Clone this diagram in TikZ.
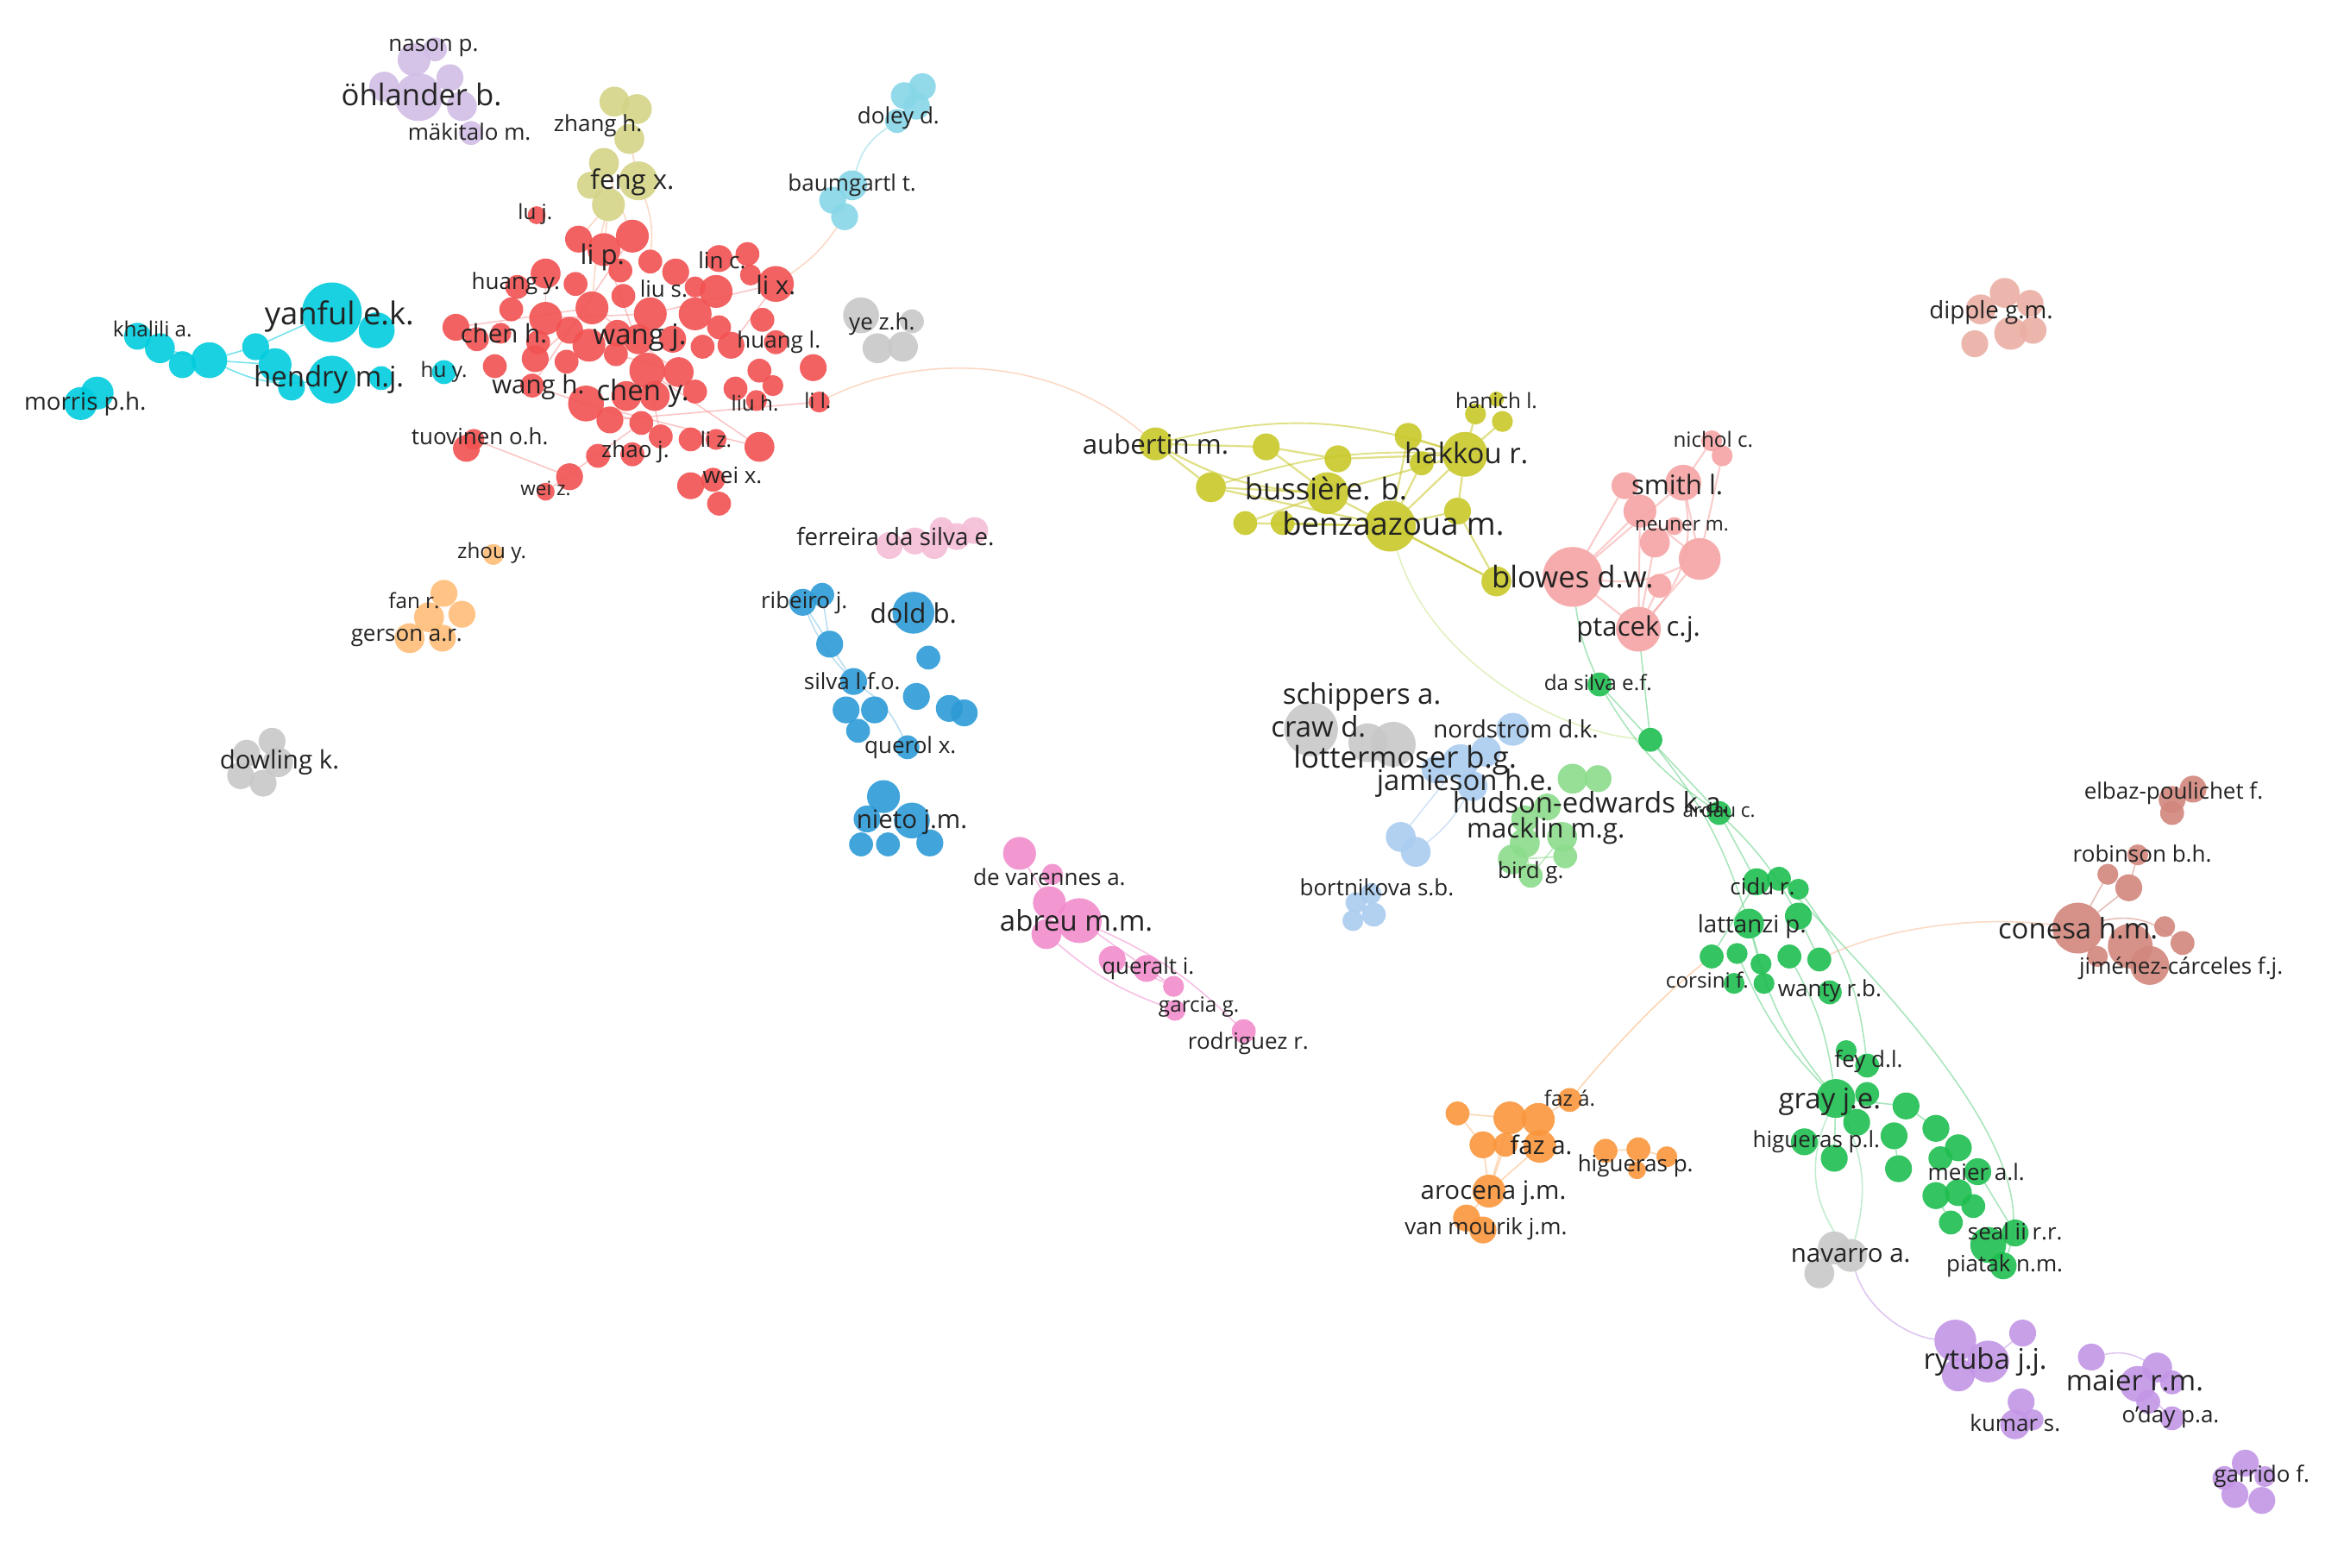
\documentclass[tikz,border=0pt]{standalone}
\usepackage{fontspec}
\setmainfont{Open Sans}
\usetikzlibrary{backgrounds}
\definecolor{tx}{RGB}{35,35,35}
\definecolor{cred}{RGB}{242,82,82}
\definecolor{ccyan}{RGB}{0,204,221}
\definecolor{ccyanl}{RGB}{135,215,232}
\definecolor{colive}{RGB}{200,200,40}
\definecolor{colivel}{RGB}{212,212,135}
\definecolor{cpinkl}{RGB}{246,163,163}
\definecolor{cgreen}{RGB}{30,190,80}
\definecolor{cgreenl}{RGB}{140,220,140}
\definecolor{cblue}{RGB}{45,155,215}
\definecolor{cbluel}{RGB}{170,205,240}
\definecolor{corange}{RGB}{250,150,60}
\definecolor{corangel}{RGB}{255,190,120}
\definecolor{cpurple}{RGB}{195,150,230}
\definecolor{clav}{RGB}{210,190,230}
\definecolor{cgray}{RGB}{200,200,200}
\definecolor{cmag}{RGB}{242,140,205}
\definecolor{cpinkp}{RGB}{245,190,215}
\definecolor{cbrown}{RGB}{210,135,125}
\definecolor{csalmon}{RGB}{235,175,165}
\definecolor{clink}{RGB}{250,185,150}
\definecolor{cyg}{RGB}{200,230,140}
\tikzset{
  bub/.style={circle, inner sep=0pt, outer sep=0pt, fill=#1, fill opacity=0.9, draw=none},
  lab/.style={text=tx, inner sep=0pt},
  lnk/.style={draw=#1, line width=0.9pt, draw opacity=0.55},
}
\newcommand{\mybub}[5]{\node[bub=#5, minimum size=#4*2pt] (#1) at (#2,#3) {};}
\newcommand{\mylab}[5]{\node[lab, font=\fontsize{#4}{#4}\selectfont] (#1) at (#2,#3) {#5};}
\begin{document}
\begin{tikzpicture}[x=1pt,y=-1pt]
\useasboundingbox (0,0) rectangle (1568,1049);
% ---------- bubbles ----------
% lavender
\foreach \n/\x/\y/\r in {ol1/277/40/11,nason/291/33/8,ohl/280/65/16,ol2/257/58/10,ol3/301/52/9,ol4/309/71/10,mak/315/89/8}
  {\mybub{\n}{\x}{\y}{\r}{clav}}
% feng (light olive)
\foreach \n/\x/\y/\r in {zh1/411/68/10,zh2/426/73/10,zh3/421/93/10,fx1/404/109/10,fx2/427/121/13,fx3/407/137/11,fx4/395/124/9}
  {\mybub{\n}{\x}{\y}{\r}{colivel}}
% red
\foreach \x/\y/\r [count=\i] in {387/160/9,404/167/11,423/158/11,435/175/8,415/181/8,452/182/9,481/173/9,500/170/8,502/184/7,519/190/12,479/195/11,465/192/7,365/183/10,385/190/8,346/192/8,342/207/8,365/213/11,396/206/11,417/198/8,435/210/11,465/210/11,481/219/8,510/214/8,305/219/9,319/227/8,335/223/7,360/229/8,381/221/9,394/231/11,413/223/9,427/227/10,450/227/9,470/232/8,489/231/9,519/229/8,544/246/9,331/245/8,358/240/9,379/242/8,412/237/8,433/248/12,454/249/10,356/258/8,392/270/12,419/265/10,438/265/10,465/262/8,492/260/8,508/248/8,517/258/7,506/268/7,548/269/7,408/281/9,429/283/8,442/292/8,462/294/8,479/294/7,508/299/10,400/305/8,423/304/8,312/300/9,317/294/7,381/319/9,365/329/6,462/325/9,477/321/8,481/337/8,359/144/6}
  {\mybub{rd\i}{\x}{\y}{\r}{cred}}
% cyan
\foreach \n/\x/\y/\r in {cy1/92/225/9,cy2/107/233/10,cy3/122/244/9,cy4/140/241/12,cy5/171/232/9,cy6/184/244/11,cy7/195/259/9,yanful/222/209/20,cy8/252/221/12,hendry/222/254/16,cy9/255/253/8,morris/54/270/11,cy10/65/263/11,huy/297/249/8}
  {\mybub{\n}{\x}{\y}{\r}{ccyan}}
% doley / baumgartl
\foreach \n/\x/\y/\r in {do1/617/58/9,do2/605/64/9,do3/613/71/9,do4/600/81/8,bg1/570/124/10,bg2/557/134/9,bg3/565/145/9}
  {\mybub{\n}{\x}{\y}{\r}{ccyanl}}
% grey groups
\foreach \n/\x/\y/\r in {ye1/576/211/12,ye2/610/215/8,ye3/587/233/10,ye4/604/232/10,dw1/182/496/9,dw2/165/504/9,dw3/186/510/10,dw4/176/524/9,dw5/161/519/9,craw/877/488/18,cw3/915/497/13,cw2/932/498/15,nv1/1227/835/11,navarro/1238/840/11,nv2/1217/852/10}
  {\mybub{\n}{\x}{\y}{\r}{cgray}}
% fan / zhou
\foreach \n/\x/\y/\r in {zhou/330/371/7,fan1/297/397/9,fan2/287/413/10,fan3/309/411/9,fan4/274/427/10,fan5/296/427/9}
  {\mybub{\n}{\x}{\y}{\r}{corangel}}
% ferreira
\foreach \n/\x/\y/\r in {fe1/595/365/9,fe2/612/362/9,fe3/625/365/9,fe4/640/359/9,fe5/652/355/9,fe6/630/354/8}
  {\mybub{\n}{\x}{\y}{\r}{cpinkp}}
% blue
\foreach \n/\x/\y/\r in {rib1/537/403/9,rib2/550/398/8,dold/611/410/14,bl1/555/431/9,bl2/621/440/8,silva/571/456/9,bl3/613/466/9,bl4/566/475/9,bl5/585/475/9,bl6/574/489/8,bl7/635/474/9,bl8/645/477/9,querol/607/500/8,nie1/591/533/11,nieto/610/549/12,nie2/580/548/9,nie3/576/565/8,nie4/594/565/8,nie5/622/564/9}
  {\mybub{\n}{\x}{\y}{\r}{cblue}}
% magenta
\foreach \n/\x/\y/\r in {dv1/682/571/11,dv2/704/585/7,ab1/702/604/11,abreu/722/616/15,ab2/700/625/10,qu1/744/642/9,qu2/767/648/9,gar1/785/660/7,gar2/786/676/7,rod/832/690/8}
  {\mybub{\n}{\x}{\y}{\r}{cmag}}
% olive (bussiere)
\foreach \n/\x/\y/\r in {aub/773/297/11,bo1/847/299/9,bo2/810/326/10,bo3/895/307/9,buss/888/330/14,benz/930/352/17,bo4/942/292/9,bo5/951/310/8,hak/980/304/15,han1/987/277/7,han2/1005/282/7,han3/1001/267/5,bo6/833/350/8,bo7/858/350/8,bo8/975/342/9,bo9/1001/389/10}
  {\mybub{\n}{\x}{\y}{\r}{colive}}
% pink (blowes)
\foreach \n/\x/\y/\r in {nic1/1145/295/7,nic2/1152/305/7,smith/1126/323/12,pk1/1087/325/9,pk2/1097/342/11,pk3/1107/363/10,pk4/1137/374/14,neu/1120/352/6,blowes/1052/386/20,pk5/1110/392/8,ptacek/1096/421/15}
  {\mybub{\n}{\x}{\y}{\r}{cpinkl}}
% dipple
\foreach \n/\x/\y/\r in {dp1/1341/196/10,dp2/1358/203/9,dp3/1325/207/10,dp4/1345/223/11,dp5/1360/221/9,dp6/1321/230/9}
  {\mybub{\n}{\x}{\y}{\r}{csalmon}}
% light blue
\foreach \n/\x/\y/\r in {nord/1012/488/11,lb1/994/503/10,lott/977/510/12,lb2/960/515/9,jam/985/526/10,lb3/937/560/10,lb4/947/570/10,bor1/917/598/7,bor2/907/604/7,bor3/919/612/8,bor4/905/616/7}
  {\mybub{\n}{\x}{\y}{\r}{cbluel}}
% light green
\foreach \n/\x/\y/\r in {lg1/1052/521/10,lg2/1069/521/9,lg3/1035/540/9,lg4/1020/548/9,lg5/1020/564/10,lg6/1045/560/10,lg7/1012/575/10,lg8/1047/573/8,bird/1024/586/8}
  {\mybub{\n}{\x}{\y}{\r}{cgreenl}}
% green
\foreach \n/\x/\y/\r in {gdas/1070/458/8,g2/1104/495/8,ardau/1150/544/8,cid1/1175/590/9,cid2/1190/588/8,cid3/1203/595/7,lat1/1170/618/10,lat2/1203/613/9,gc1/1145/640/8,gc2/1162/638/7,gc3/1178/645/7,gc4/1197/640/8,gc5/1217/642/8,gc6/1160/658/7,gc7/1180/658/7,wanty/1224/664/8,fey1/1235/703/7,fey2/1249/713/8,grayje/1228/735/13,gg1/1249/732/8,gg2/1275/740/9,gg3/1242/751/9,gg4/1267/760/9,gg5/1295/755/9,gg6/1310/768/9,gg7/1298/775/8,hpl1/1207/764/9,hpl2/1227/775/9,me1/1270/782/9,me2/1323/784/9,me3/1295/800/9,me4/1310/798/9,me5/1320/807/8,me6/1305/818/8,seal1/1330/833/12,seal2/1348/825/9,piatak/1340/847/9}
  {\mybub{\n}{\x}{\y}{\r}{cgreen}}
% orange (faz)
\foreach \n/\x/\y/\r in {faza/1050/736/8,fz1/1010/748/11,fz2/1029/749/11,faz/1030/767/11,fz3/992/766/9,fz4/975/745/8,fz5/1007/766/8,aroc/996/797/11,vm1/981/815/9,vm2/992/823/9,hp1/1074/770/8,hp2/1096/769/8,hp3/1115/774/7,hp4/1095/783/6}
  {\mybub{\n}{\x}{\y}{\r}{corange}}
% brown (conesa)
\foreach \n/\x/\y/\r in {elb1/1453/535/9,elb2/1467/528/9,elb3/1453/544/8,rob1/1430/572/7,rob2/1410/585/7,rob3/1424/594/9,conesa/1390/621/17,cn2/1425/633/15,cn3/1438/646/13,cn4/1460/631/8,cn5/1448/620/7,cn6/1403/640/7}
  {\mybub{\n}{\x}{\y}{\r}{cbrown}}
% purple
\foreach \n/\x/\y/\r in {ry1/1308/897/14,ryt/1330/911/14,ry2/1310/920/11,ry3/1353/892/9,mai1/1399/908/9,mai2/1443/915/10,maier/1430/926/12,mai3/1453/925/8,mai4/1437/938/8,ku1/1352/938/9,kumar/1348/953/10,ku2/1360/950/7,oday/1453/949/8,ga1/1502/979/9,ga2/1495/1000/9,ga3/1513/1004/9,ga4/1488/989/8,ga5/1515/988/7}
  {\mybub{\n}{\x}{\y}{\r}{cpurple}}
% ---------- connectors ----------
\begin{scope}[on background layer]
\fill[white] (0,0) rectangle (1568,1049);
% cyan
\draw[lnk=ccyan] (cy2) -- (cy4);
\draw[lnk=ccyan] (cy4) -- (cy5);
\draw[lnk=ccyan] (cy4) -- (cy6);
\draw[lnk=ccyan] (cy4) to[bend right=15] (hendry);
\draw[lnk=ccyan] (cy5) -- (yanful);
% feng - red
\draw[lnk=clink] (fx3) -- (rd2);
\draw[lnk=clink] (fx3) -- (rd1);
\draw[lnk=clink] (fx2) to[bend left=12] (rd4);
\draw[lnk=clink] (fx1) -- (rd3);
\draw[lnk=clink] (zh3) -- (fx2);
\draw[lnk=clink] (fx3) to[bend right=5] (rd18);
% red internal
\foreach \a/\b in {2/41,3/43,18/42,10/20,10/34,8/7,41/58,44/58,52/53,13/17,24/18,40/42,43/54,54/64,17/20,18/38,22/21,6/6,61/62,62/63,41/55}
  {\draw[lnk=cred!60] (rd\a) -- (rd\b);}
% doley - baumgartl - li x.
\draw[lnk=ccyanl] (do4) to[bend right=20] (bg1);
\draw[lnk=clink] (bg3) to[bend left=10] (rd10);
% li l. - aubertin
\draw[lnk=clink] (rd52) .. controls (610,238) and (700,235) .. (aub);
% olive
\foreach \a/\b in {aub/bo1,aub/bo2,bo1/bo3,bo1/buss,bo2/buss,bo2/benz,bo3/hak,buss/hak,benz/hak,benz/bo9,buss/bo9,hak/han1,hak/han2,bo4/benz,bo4/hak,bo5/benz,bo6/benz,bo7/benz,bo8/benz,bo8/hak,bo8/bo9,bo6/buss}
  {\draw[lnk=colive, line width=1.3pt] (\a) -- (\b);}
\draw[lnk=colive, line width=1.3pt] (aub) to[bend right=12] (buss);
\draw[lnk=colive, line width=1.1pt] (aub) to[bend left=15] (hak);
\draw[lnk=colive, line width=1.1pt] (bo2) to[bend left=10] (hak);
% pink
\foreach \a/\b in {blowes/smith,blowes/ptacek,smith/pk4,smith/nic1,nic2/pk4,ptacek/pk4,pk1/blowes,pk2/pk4,pk3/ptacek,pk5/ptacek,pk2/ptacek,blowes/pk2}
  {\draw[lnk=cpinkl, line width=1.2pt] (\a) -- (\b);}
\draw[lnk=cpinkl, line width=1.2pt] (blowes) to[bend right=15] (pk4);
\draw[lnk=cpinkl, line width=1.2pt] (smith) to[bend left=25] (ptacek);
% long green from benzaazoua
\draw[lnk=cyg] (benz) .. controls (955,440) and (1040,490) .. (g2);
% green
\draw[lnk=cgreen!70] (blowes) to[bend right=8] (gdas);
\draw[lnk=cgreen!70] (ptacek) -- (g2);
\draw[lnk=cgreen!70] (gdas) -- (g2);
\draw[lnk=cgreen!70] (gdas) to[bend right=12] (ardau);
\draw[lnk=cgreen!70] (g2) -- (ardau);
\draw[lnk=cgreen!70] (ardau) -- (cid1);
\draw[lnk=cgreen!70] (g2) to[bend left=10] (lat1);
\draw[lnk=cgreen!70] (ardau) to[bend left=8] (lat2);
\draw[lnk=cgreen!70] (cid1) -- (gc1);
\draw[lnk=cgreen!70] (lat1) -- (gc3);
\draw[lnk=cgreen!70] (lat2) -- (gc5);
\draw[lnk=cgreen!70] (gc4) to[bend left=10] (grayje);
\draw[lnk=cgreen!70] (lat1) to[bend right=12] (grayje);
\draw[lnk=cgreen!70] (gc2) to[bend right=10] (grayje);
\draw[lnk=cgreen!70] (cid3) to[bend left=15] (fey2);
\draw[lnk=cgreen!70] (grayje) -- (gg2);
\draw[lnk=cgreen!70] (grayje) -- (hpl2);
\draw[lnk=cgreen!70] (grayje) -- (gg3);
\draw[lnk=cgreen!70] (gg2) -- (gg5);
\draw[lnk=cgreen!70] (gg4) -- (me1);
\draw[lnk=cgreen!70] (me2) -- (seal2);
\draw[lnk=cgreen!70] (me3) -- (me6);
\draw[lnk=cgreen!70] (cid2) .. controls (1290,690) and (1365,780) .. (piatak);
\draw[lnk=cgreen!50] (grayje) to[bend right=30] (navarro);
\draw[lnk=cgreen!50] (grayje) to[bend left=20] (navarro);
% light blue / light green
\draw[lnk=cbluel] (jam) to[bend left=10] (lb4);
\draw[lnk=cbluel] (lott) -- (lb3);
\draw[lnk=cgreenl] (lg5) -- (bird);
\draw[lnk=cgreenl] (lg6) -- (bird);
\draw[lnk=cgreenl] (lg7) -- (lg8);
% orange
\draw[lnk=corange!70] (faza) .. controls (1080,700) and (1110,668) .. (gc1);
\foreach \a/\b in {fz4/fz1,fz4/fz3,fz1/aroc,fz5/aroc,faz/aroc,aroc/vm1,fz2/faza,hp1/hp2,hp2/hp3,fz3/aroc}
  {\draw[lnk=corange!70] (\a) -- (\b);}
% brown
\draw[lnk=clink] (gc5) .. controls (1260,622) and (1320,612) .. (conesa);
\draw[lnk=cbrown] (conesa) -- (rob2);
\draw[lnk=cbrown] (conesa) -- (rob3);
\draw[lnk=cbrown] (rob3) -- (rob1);
\draw[lnk=cbrown] (conesa) to[bend left=25] (cn4);
% purple
\draw[lnk=cpurple] (navarro) .. controls (1250,880) and (1280,895) .. (ry1);
\draw[lnk=cpurple] (mai1) to[bend left=20] (mai2);
\draw[lnk=cpurple] (maier) -- (oday);
\draw[lnk=cpurple] (ryt) -- (ry3);
% blue
\draw[lnk=cblue!60] (rib1) to[bend right=10] (silva);
\draw[lnk=cblue!60] (rib2) -- (bl1);
\draw[lnk=cblue!60] (rib1) -- (bl1);
\draw[lnk=cblue!60] (silva) to[bend left=15] (querol);
\draw[lnk=cblue!60] (bl1) -- (silva);
% magenta
\draw[lnk=cmag] (dv1) -- (ab1);
\draw[lnk=cmag] (abreu) -- (qu2);
\draw[lnk=cmag] (ab2) to[bend right=10] (gar2);
\draw[lnk=cmag] (abreu) to[bend left=10] (rod);
\draw[lnk=cmag] (qu1) -- (gar1);
\draw[lnk=cmag] (qu2) -- (gar1);
\end{scope}
% ---------- labels ----------
\mylab{Lnason}{290}{32}{15}{nason p.}
\mylab{Lohl}{282}{63}{20}{öhlander b.}
\mylab{Lmak}{314}{88}{15}{mäkitalo m.}
\mylab{Lzhang}{400}{84}{15}{zhang h.}
\mylab{Lfeng}{423}{122}{18}{feng x.}
\mylab{Lluj}{358}{143}{14}{lu j.}
\mylab{Llip}{403}{172}{18}{li p.}
\mylab{Lhuangy}{345}{190}{15}{huang y.}
\mylab{Llinc}{483}{174}{15}{lin c.}
\mylab{Llius}{444}{193}{15}{liu s.}
\mylab{Llix}{519}{191}{17}{li x.}
\mylab{Lchenh}{337}{223}{17}{chen h.}
\mylab{Lwangj}{428}{226}{19}{wang j.}
\mylab{Lhuangl}{521}{229}{15}{huang l.}
\mylab{Lhuy}{297}{249}{14}{hu y.}
\mylab{Lwangh}{360}{259}{17}{wang h.}
\mylab{Lcheny}{430}{263}{19}{chen y.}
\mylab{Lliuh}{505}{270}{14}{liu h.}
\mylab{Llil}{547}{268}{14}{li l.}
\mylab{Ltuov}{321}{292}{15}{tuovinen o.h.}
\mylab{Lzhao}{425}{302}{15}{zhao j.}
\mylab{Lliz}{479}{294}{14}{li z.}
\mylab{Lweix}{490}{318}{15}{wei x.}
\mylab{Lweiz}{365}{327}{13}{wei z.}
\mylab{Lkhal}{102}{220}{14}{khalili a.}
\mylab{Lyanful}{227}{212}{21}{yanful e.k.}
\mylab{Lhendry}{220}{254}{19}{hendry m.j.}
\mylab{Lmorris}{57}{270}{16}{morris p.h.}
\mylab{Ldoley}{601}{79}{15}{doley d.}
\mylab{Lbaum}{570}{124}{15}{baumgartl t.}
\mylab{Lye}{590}{217}{15}{ye z.h.}
\mylab{Lzhou}{329}{370}{14}{zhou y.}
\mylab{Lfan}{277}{402}{14}{fan r.}
\mylab{Lgerson}{272}{427}{15}{gerson a.r.}
\mylab{Ldowling}{187}{510}{17}{dowling k.}
\mylab{Lferr}{599}{359}{16}{ferreira da silva e.}
\mylab{Lrib}{538}{403}{15}{ribeiro j.}
\mylab{Ldold}{611}{410}{18}{dold b.}
\mylab{Lsilva}{570}{456}{15}{silva l.f.o.}
\mylab{Lquerol}{609}{500}{15}{querol x.}
\mylab{Lnieto}{610}{550}{17}{nieto j.m.}
\mylab{Ldevar}{702}{587}{15}{de varennes a.}
\mylab{Labreu}{720}{616}{19}{abreu m.m.}
\mylab{Lqueralt}{768}{648}{15}{queralt i.}
\mylab{Lgarcia}{802}{674}{14}{garcia g.}
\mylab{Lrod}{835}{698}{15}{rodriguez r.}
\mylab{Laub}{773}{297}{18}{aubertin m.}
\mylab{Lhanich}{1001}{268}{14}{hanich l.}
\mylab{Lhakkou}{981}{303}{19}{hakkou r.}
\mylab{Lbuss}{887}{327}{20}{bussière. b.}
\mylab{Lbenz}{932}{350}{21}{benzaazoua m.}
\mylab{Lnichol}{1146}{294}{14}{nichol c.}
\mylab{Lsmith}{1122}{324}{18}{smith l.}
\mylab{Lneuner}{1125}{352}{13}{neuner m.}
\mylab{Lblowes}{1052}{386}{20}{blowes d.w.}
\mylab{Lptacek}{1096}{421}{18}{ptacek c.j.}
\mylab{Ldipple}{1332}{209}{16}{dipple g.m.}
\mylab{Ldasilva}{1069}{457}{14}{da silva e.f.}
\mylab{Lschip}{911}{466}{19}{schippers a.}
\mylab{Lcraw}{882}{486}{19}{craw d.}
\mylab{Lnord}{1014}{488}{16}{nordstrom d.k.}
\mylab{Llott}{940}{509}{20}{lottermoser b.g.}
\mylab{Ljam}{980}{524}{19}{jamieson h.e.}
\mylab{Lardau}{1150}{542}{13}{ardau c.}
\mylab{Lhudson}{1064}{537}{19}{hudson-edwards k.a.}
\mylab{Lmacklin}{1034}{556}{18}{macklin m.g.}
\mylab{Lbird}{1024}{584}{15}{bird g.}
\mylab{Lbort}{921}{594}{15}{bortnikova s.b.}
\mylab{Lelbaz}{1454}{531}{15}{elbaz-poulichet f.}
\mylab{Lrobin}{1433}{571}{15}{robinson b.h.}
\mylab{Lconesa}{1390}{621}{19}{conesa h.m.}
\mylab{Ljimenez}{1459}{648}{15}{jiménez-cárceles f.j.}
\mylab{Lcidu}{1179}{593}{15}{cidu r.}
\mylab{Llatt}{1172}{620}{16}{lattanzi p.}
\mylab{Lcorsini}{1142}{656}{14}{corsini f.}
\mylab{Lwanty}{1224}{663}{15}{wanty r.b.}
\mylab{Lfaza}{1050}{735}{14}{faz á.}
\mylab{Lfaz}{1031}{766}{17}{faz a.}
\mylab{Lhigp}{1094}{780}{15}{higueras p.}
\mylab{Laroc}{999}{798}{17}{arocena j.m.}
\mylab{Lvanm}{994}{822}{15}{van mourik j.m.}
\mylab{Lfey}{1250}{710}{15}{fey d.l.}
\mylab{Lgray}{1224}{737}{19}{gray j.e.}
\mylab{Lhigpl}{1215}{764}{15}{higueras p.l.}
\mylab{Lmeier}{1322}{784}{15}{meier a.l.}
\mylab{Lseal}{1348}{824}{15}{seal ii r.r.}
\mylab{Lpiatak}{1341}{847}{15}{piatak n.m.}
\mylab{Lnavarro}{1238}{840}{17}{navarro a.}
\mylab{Lrytuba}{1328}{911}{19}{rytuba j.j.}
\mylab{Lmaier}{1428}{924}{19}{maier r.m.}
\mylab{Lkumar}{1348}{952}{15}{kumar s.}
\mylab{Loday}{1452}{948}{15}{o'day p.a.}
\mylab{Lgarrido}{1513}{988}{15}{garrido f.}
\end{tikzpicture}
\end{document}
